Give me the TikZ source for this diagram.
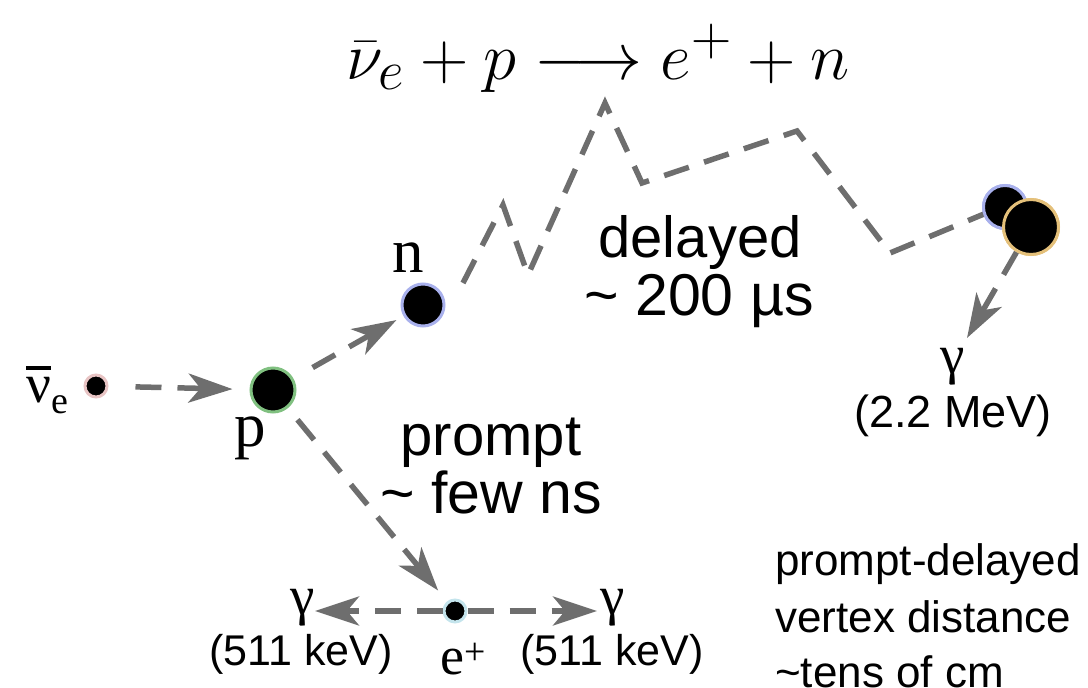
\documentclass[tikz,border=0pt]{standalone}
\usepackage{fontspec}
\setmainfont{Liberation Sans}
\newfontfamily\serifl{Liberation Serif}
\usetikzlibrary{arrows.meta}
\definecolor{lg}{HTML}{6E6E6E}
\definecolor{pgreen}{HTML}{80C080}
\definecolor{nblue}{HTML}{A8B0EC}
\definecolor{nupink}{HTML}{E8C4C4}
\definecolor{ecyan}{HTML}{C4E4EC}
\definecolor{dgold}{HTML}{E4C07A}
\tikzset{
  conn/.style={draw=lg, line width=5.5pt, dash pattern=on 26pt off 16pt},
  tip/.style={-{Stealth[length=44pt,width=29pt,inset=12pt]}},
  ball/.style={circle, fill=black, line width=3pt, inner sep=0pt},
  sans/.style={font=\fontsize{#1}{#1}\selectfont},
  ser/.style={font=\serifl\fontsize{#1}{#1}\selectfont},
}
\begin{document}
\begin{tikzpicture}[x=1pt,y=-1pt]
\useasboundingbox (0,0) rectangle (1088,688);
% title
\node[scale=2.69, font=\Huge] (title) at (598,58) {$\bar{\nu}_e + p \longrightarrow e^+ + n$};
% particles
\node[ball, draw=nupink, minimum size=22pt] (nu) at (96,386) {};
\node[ball, draw=pgreen, minimum size=44pt] (p) at (273,390) {};
\node[ball, draw=nblue, minimum size=42pt] (n) at (423,305) {};
\node[ball, draw=ecyan, minimum size=22pt] (e) at (455,611) {};
\node[ball, draw=nblue, minimum size=43pt] (nf) at (1005,207) {};
\node[ball, draw=dgold, minimum size=55pt] (d) at (1031,227) {};
% labels
\node[ser=55, anchor=base west, inner sep=0pt] (nulab) at (26,402)
  {\makebox[0pt][l]{\rule[0.58em]{0.45em}{0.07em}}ν\raisebox{-0.2em}{\fontsize{38}{38}\selectfont e}};
\node[ser=63, anchor=base, inner sep=0pt] (plab) at (250,446) {p};
\node[ser=63, anchor=base, inner sep=0pt] (nlab) at (408,272) {n};
\node[ser=54, anchor=base west, inner sep=0pt] (elab) at (440,674) {e\textsuperscript{+}};
\node[ser=55, inner sep=0pt] (gL) at (303,608) {γ};
\node[ser=55, inner sep=0pt] (gR) at (613,608) {γ};
\node[ser=55, inner sep=0pt] (gD) at (953,367) {γ};
\node[sans=43, anchor=base, inner sep=0pt] (kL) at (301,665) {(511 keV)};
\node[sans=43, anchor=base, inner sep=0pt] (kR) at (612,665) {(511 keV)};
\node[sans=45, anchor=base, inner sep=0pt] (mev) at (953,427) {(2.2 MeV)};
\node[sans=58, anchor=base, inner sep=0pt] (del1) at (700,257) {delayed};
\node[sans=59, anchor=base, inner sep=0pt] (del2) at (699,315) {\textasciitilde{} 200 µs};
\node[sans=58, anchor=base, inner sep=0pt] (pr1) at (491,455) {prompt};
\node[sans=59, anchor=base, inner sep=0pt] (pr2) at (491,513) {\textasciitilde{} few ns};
\node[sans=44, anchor=base west, inner sep=0pt] (r1) at (775,575) {prompt-delayed};
\node[sans=44, anchor=base west, inner sep=0pt] (r2) at (775,632) {vertex distance};
\node[sans=44, anchor=base west, inner sep=0pt] (r3) at (775,687) {\textasciitilde tens of cm};
% connector end points
\coordinate (tL) at (315,611);
\coordinate (tR) at (597,611);
\coordinate (tD) at (967,338);
\coordinate (z0) at (463,283);
\coordinate (z1) at (503,205);
\coordinate (z2) at (528,275);
\coordinate (z3) at (605,103);
\coordinate (z4) at (642,183);
\coordinate (z5) at (797,131);
\coordinate (z6) at (890,253);
\coordinate (z7) at (984,214);
% connectors
\draw[conn, tip, shorten <=27pt, shorten >=17pt] (nu) -- (p);
\draw[conn, tip, shorten <=22pt, shorten >=8pt] (p) -- (n);
\draw[conn, tip, shorten <=15pt, shorten >=14pt] (p) -- (e);
\draw[conn, tip] (e) -- (tL);
\draw[conn, tip] (e) -- (tR);
\draw[conn, tip] (d) -- (tD);
\draw[conn, miter limit=4] (z0) -- (z1) -- (z2) -- (z3) -- (z4) -- (z5) -- (z6) -- (z7);
% redraw final particles on top
\node[ball, draw=nblue, minimum size=43pt] at (nf) {};
\node[ball, draw=dgold, minimum size=55pt] at (d) {};
\end{tikzpicture}
\end{document}
